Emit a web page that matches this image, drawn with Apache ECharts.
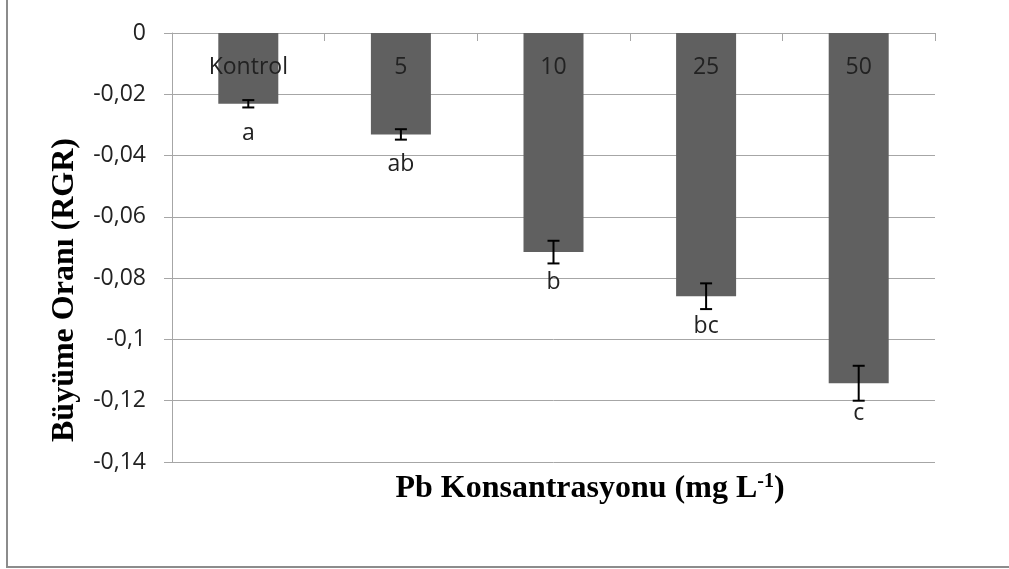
<!DOCTYPE html>
<html>
<head>
<meta charset="utf-8">
<style>
  html, body { margin: 0; padding: 0; background: #ffffff; }
  #chart { width: 1009px; height: 569px; }
</style>
<script src="https://cdn.jsdelivr.net/npm/echarts@6/dist/echarts.min.js"></script>
</head>
<body>
<div id="chart"></div>
<script>
// Relative growth rate under increasing Pb concentrations
const categories = ['Kontrol', '5', '10', '25', '50'];
const rgrValues = [-0.0231, -0.0331, -0.0715, -0.0859, -0.1143];
const rgrErrors = [0.0012, 0.0017, 0.0037, 0.0042, 0.0057];
const groupLetters = ['a', 'ab', 'b', 'bc', 'c'];
const yTicks = { min: -0.14, max: 0, interval: 0.02 };

const labelFont = '"Open Sans", "Liberation Sans", sans-serif';
const titleFont = '"Liberation Serif", "DejaVu Serif", serif';
const gridColor = '#a6a6a6';
const textColor = '#222222';

const chart = echarts.init(document.getElementById('chart'), null, { renderer: 'canvas' });

const errorData = categories.map((c, i) => [i, rgrValues[i], rgrErrors[i]]);

function renderErrorBar(params, api) {
  const i = api.value(0);
  const v = api.value(1);
  const e = api.value(2);
  const hi = api.coord([i, v + e]);
  const lo = api.coord([i, v - e]);
  const end = api.coord([i, v]);
  const zero = api.coord([i, 0]);
  const x = hi[0];
  const cap = 6;
  const lineStyle = { stroke: '#000000', lineWidth: 2 };
  return {
    type: 'group',
    children: [
      { type: 'line', shape: { x1: x, y1: hi[1], x2: x, y2: lo[1] }, style: lineStyle },
      { type: 'line', shape: { x1: x - cap, y1: hi[1], x2: x + cap, y2: hi[1] }, style: lineStyle },
      { type: 'line', shape: { x1: x - cap, y1: lo[1], x2: x + cap, y2: lo[1] }, style: lineStyle },
      {
        type: 'text',
        style: {
          text: groupLetters[i], x: x, y: end[1] + 30,
          align: 'center', verticalAlign: 'middle',
          fontSize: 23, fontFamily: labelFont, fill: textColor
        }
      },
      {
        type: 'text',
        style: {
          text: categories[i], x: x, y: zero[1] + 34,
          align: 'center', verticalAlign: 'middle',
          fontSize: 23, fontFamily: labelFont, fill: textColor
        }
      }
    ]
  };
}

const option = {
  animation: false,
  backgroundColor: '#ffffff',
  grid: { left: 172, right: 74, top: 33, bottom: 107, containLabel: false },
  xAxis: {
    type: 'category',
    data: categories,
    position: 'top',
    boundaryGap: true,
    axisLine: { show: true, lineStyle: { color: gridColor, width: 1 } },
    axisTick: { show: true, inside: true, length: 8, interval: 0, lineStyle: { color: gridColor } },
    axisLabel: { show: false },
    splitLine: { show: false }
  },
  yAxis: {
    type: 'value',
    min: yTicks.min,
    max: yTicks.max,
    interval: yTicks.interval,
    axisLine: { show: true, lineStyle: { color: gridColor, width: 1 } },
    axisTick: { show: true, length: 8, lineStyle: { color: gridColor } },
    axisLabel: {
      margin: 26,
      fontSize: 23,
      fontFamily: labelFont,
      color: textColor,
      formatter: v => (v === 0 ? '0' : String(Number(v.toFixed(2))).replace('.', ','))
    },
    splitLine: { show: true, lineStyle: { color: gridColor, width: 1 } }
  },
  series: [
    {
      type: 'bar',
      data: rgrValues,
      barWidth: 60,
      itemStyle: { color: '#606060' },
      z: 2
    },
    {
      type: 'custom',
      data: errorData,
      renderItem: renderErrorBar,
      z: 5
    }
  ],
  graphic: [
    {
      type: 'text',
      x: 65, y: 290,
      rotation: Math.PI / 2,
      style: {
        text: 'Büyüme Oranı (RGR)',
        align: 'center', verticalAlign: 'middle',
        fontSize: 32, fontWeight: 'bold', fontFamily: titleFont, fill: '#000000'
      }
    },
    {
      type: 'text',
      x: 590, y: 488,
      style: {
        text: '{t|Pb Konsantrasyonu (mg L}{s|-1}{t|)}',
        align: 'center', verticalAlign: 'middle',
        rich: {
          t: { fontSize: 32, fontWeight: 'bold', fontFamily: titleFont, fill: '#000000', verticalAlign: 'bottom' },
          s: { fontSize: 20, fontWeight: 'bold', fontFamily: titleFont, fill: '#000000', verticalAlign: 'top', padding: [0, 0, 13, 0] }
        }
      }
    },
    {
      type: 'line',
      shape: { x1: 7, y1: 0, x2: 7, y2: 567 },
      style: { stroke: '#8c8c8c', lineWidth: 2 }
    },
    {
      type: 'line',
      shape: { x1: 6, y1: 567, x2: 1009, y2: 567 },
      style: { stroke: '#8c8c8c', lineWidth: 2 }
    }
  ]
};

chart.setOption(option);
</script>
</body>
</html>
